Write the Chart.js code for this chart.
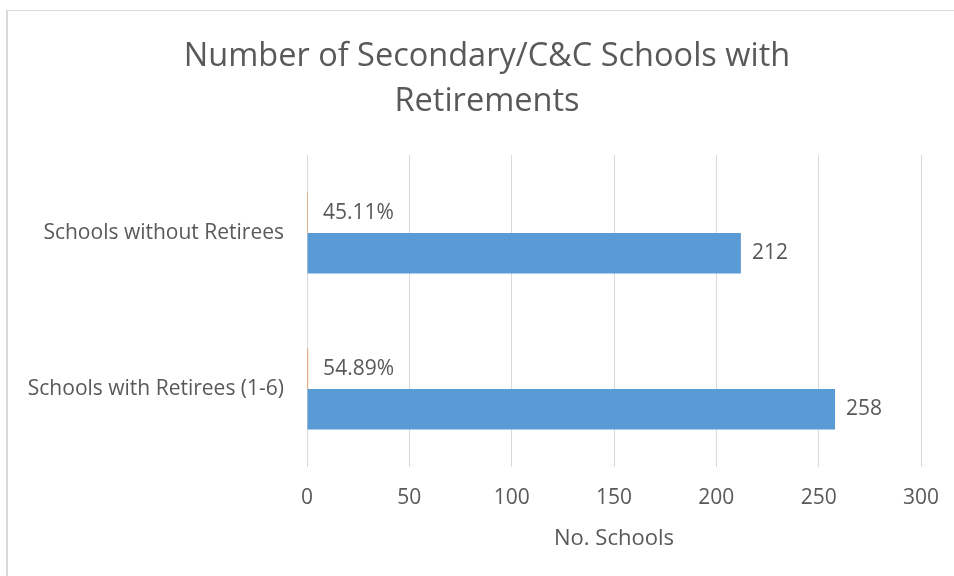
<!DOCTYPE html>
<html>
<head>
<meta charset="utf-8">
<script src="https://cdn.jsdelivr.net/npm/chart.js@4/dist/chart.umd.min.js"></script>
<style>
  html, body { margin: 0; padding: 0; background: #fff; overflow: hidden; }
  #wrap { position: relative; width: 954px; height: 576px; }
  #chart { display: block; }
  #frame { position: absolute; left: 6px; top: 10px; width: 946px; height: 566px;
           border-left: 2px solid #d9d9d9; border-top: 1px solid #d9d9d9; pointer-events: none; }
</style>
</head>
<body>
<div id="wrap">
  <canvas id="chart" width="954" height="576"></canvas>
  <div id="frame"></div>
</div>
<script>
// data
const categories = ['Schools without Retirees', 'Schools with Retirees (1-6)'];
const schoolCounts = [212, 258];
const shares = [0.4511, 0.5489];
const xTicks = [0, 50, 100, 150, 200, 250, 300];
const titleLines = ['Number of Secondary/C&C Schools with', 'Retirements'];

const FONT = 'Open Sans';
const TEXT = '#595959';

// chart title, centred where Excel had it (a bit right of the canvas middle)
const excelTitle = {
  id: 'excelTitle',
  afterDraw(chart) {
    const ctx = chart.ctx;
    ctx.save();
    ctx.font = '32.5px "' + FONT + '"';
    ctx.fillStyle = TEXT;
    ctx.textAlign = 'center';
    ctx.textBaseline = 'middle';
    titleLines.forEach((t, i) => ctx.fillText(t, 487, 57 + i * 45));
    ctx.restore();
  }
};

// labels at the bar ends, like the Excel data labels
const barLabels = {
  id: 'barLabels',
  afterDatasetsDraw(chart) {
    const ctx = chart.ctx;
    ctx.save();
    ctx.font = '21px "' + FONT + '"';
    ctx.fillStyle = TEXT;
    ctx.textBaseline = 'middle';
    ctx.textAlign = 'left';
    chart.data.datasets.forEach((ds, di) => {
      const meta = chart.getDatasetMeta(di);
      meta.data.forEach((bar, i) => {
        let txt;
        if (ds.isShare) txt = (ds.data[i] * 100).toFixed(2) + '%';
        else txt = String(ds.data[i]);
        const off = ds.isShare ? 15 : 11;
        ctx.fillText(txt, bar.x + off, bar.y);
      });
    });
    ctx.restore();
  }
};

new Chart(document.getElementById('chart'), {
  type: 'bar',
  data: {
    labels: categories,
    datasets: [
      {
        label: 'Share',
        data: shares,
        isShare: true,
        backgroundColor: '#ED7D31',
        categoryPercentage: 0.52,
        barPercentage: 1.0
      },
      {
        label: 'No. Schools',
        data: schoolCounts,
        backgroundColor: '#5B9BD5',
        categoryPercentage: 0.52,
        barPercentage: 1.0
      }
    ]
  },
  options: {
    indexAxis: 'y',
    responsive: false,
    animation: false,
    layout: { padding: { left: 10, right: 33, top: 155, bottom: 0 } },
    plugins: {
      legend: { display: false },
      tooltip: { enabled: false },
      title: { display: false }
    },
    scales: {
      x: {
        min: 0,
        max: 300,
        afterBuildTicks(axis) { axis.ticks = xTicks.map(v => ({ value: v })); },
        afterFit(axis) {
          axis.height = 109;
          axis.paddingLeft = 0;
          axis.paddingRight = 0;
        },
        grid: { color: '#d9d9d9', lineWidth: 1, drawTicks: false },
        border: { display: false },
        ticks: { color: TEXT, font: { family: FONT, size: 21 }, padding: 18 },
        title: {
          display: true,
          text: 'No. Schools',
          color: TEXT,
          font: { family: FONT, size: 22 },
          padding: { top: 0, bottom: 24 }
        }
      },
      y: {
        afterFit(axis) {
          axis.width = 297;
          axis.paddingTop = 0;
          axis.paddingBottom = 0;
        },
        grid: { display: false, drawTicks: false },
        border: { display: false },
        ticks: { color: TEXT, font: { family: FONT, size: 21 }, padding: 23, autoSkip: false }
      }
    }
  },
  plugins: [barLabels, excelTitle]
});
</script>
</body>
</html>
